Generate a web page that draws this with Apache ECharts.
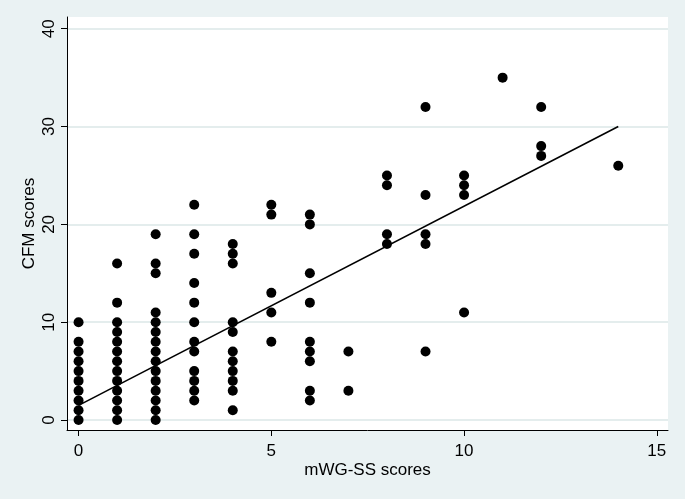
<!DOCTYPE html>
<html>
<head>
<meta charset="utf-8">
<script src="https://cdn.jsdelivr.net/npm/echarts@6/dist/echarts.min.js"></script>
<style>html,body{margin:0;padding:0;background:#eaf2f3;}#c{width:685px;height:499px;}</style>
</head>
<body>
<div id="c"></div>
<script>
// mWG-SS score (x) and the CFM scores observed at that x
const xValues = [0, 1, 2, 3, 4, 5, 6, 7, 8, 9, 10, 11, 12, 14];
const cfmAtX0 = [0, 1, 2, 3, 4, 5, 6, 7, 8, 10];
const cfmAtX1 = [0, 1, 2, 3, 4, 5, 6, 7, 8, 9, 10, 12, 16];
const cfmAtX2 = [0, 1, 2, 3, 4, 5, 6, 7, 8, 9, 10, 11, 15, 16, 19];
const cfmAtX3 = [2, 3, 4, 5, 7, 8, 10, 12, 14, 17, 19, 22];
const cfmAtX4 = [1, 3, 4, 5, 6, 7, 9, 10, 16, 17, 18];
const cfmAtX5 = [8, 11, 13, 21, 22];
const cfmAtX6 = [2, 3, 6, 7, 8, 12, 15, 20, 21];
const cfmAtX7 = [3, 7];
const cfmAtX8 = [18, 19, 24, 25];
const cfmAtX9 = [7, 18, 19, 23, 32];
const cfmAtX10 = [11, 23, 24, 25];
const cfmAtX11 = [35];
const cfmAtX12 = [27, 28, 32];
const cfmAtX14 = [26];
// fitted line end points
const fitX = [0, 14];
const fitY = [1.5, 30];
// tick labels
const xTicks = [0, 5, 10, 15];
const yTicks = [0, 10, 20, 30, 40];

const groups = [cfmAtX0, cfmAtX1, cfmAtX2, cfmAtX3, cfmAtX4, cfmAtX5, cfmAtX6,
  cfmAtX7, cfmAtX8, cfmAtX9, cfmAtX10, cfmAtX11, cfmAtX12, cfmAtX14];
const points = [];
groups.forEach((g, i) => g.forEach(v => points.push([xValues[i], v])));
const fitData = fitX.map((x, i) => [x, fitY[i]]);

const font = '"Liberation Sans", Arial, sans-serif';
const chart = echarts.init(document.getElementById('c'), null, {renderer: 'canvas'});
chart.setOption({
  animation: false,
  backgroundColor: '#eaf2f3',
  grid: {left: 67, top: 17, width: 601, height: 413, show: true, backgroundColor: '#ffffff', borderWidth: 0},
  xAxis: {
    type: 'value', min: -0.3, max: 15.29,
    name: 'mWG-SS scores', nameLocation: 'middle', nameGap: 32, nameMoveOverlap: false,
    nameTextStyle: {fontFamily: font, fontSize: 17, color: '#000'},
    axisLine: {show: true, onZero: false, lineStyle: {color: '#000', width: 1}},
    axisTick: {show: true, length: 6, customValues: xTicks, lineStyle: {color: '#000'}},
    axisLabel: {customValues: xTicks, margin: 13, fontFamily: font, fontSize: 17, color: '#000'},
    splitLine: {show: false}
  },
  yAxis: {
    type: 'value', min: -1.02, max: 41.2,
    name: 'CFM scores', nameLocation: 'middle', nameGap: 29, nameRotate: 90, nameMoveOverlap: false,
    nameTextStyle: {fontFamily: font, fontSize: 17, color: '#000'},
    axisLine: {show: true, onZero: false, lineStyle: {color: '#000', width: 1}},
    axisTick: {show: true, length: 6, customValues: yTicks, lineStyle: {color: '#000'}},
    axisLabel: {customValues: yTicks, rotate: 90, margin: 9, fontFamily: font, fontSize: 17, color: '#000'},
    splitLine: {show: true, lineStyle: {color: '#e4eded', width: 2}}
  },
  series: [
    {
      type: 'scatter', data: points, symbol: 'circle', symbolSize: 10,
      itemStyle: {color: '#000', opacity: 1}, z: 3
    },
    {
      type: 'line', data: fitData, showSymbol: false, symbol: 'none',
      lineStyle: {color: '#000', width: 1.6}, z: 4
    }
  ]
});
</script>
</body>
</html>
